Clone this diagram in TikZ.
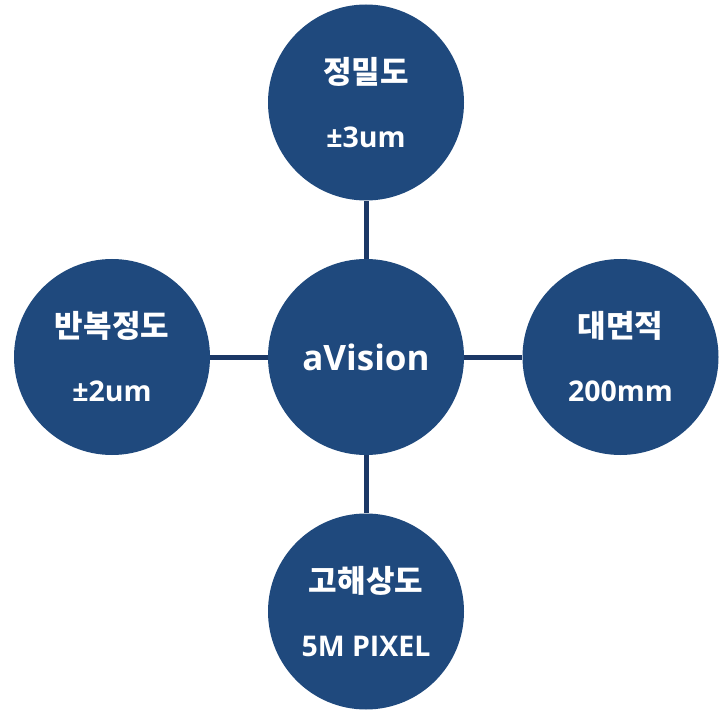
\documentclass[tikz,border=0pt]{standalone}
\usepackage{fontspec}
\setmainfont{Noto Sans CJK KR}
\newfontfamily\lat{Open Sans}
\definecolor{circfill}{HTML}{1F497D}
\definecolor{linkcol}{HTML}{1B3866}
\newcommand{\kline}[1]{{\bfseries\fontsize{31}{31}\selectfont #1}}
\newcommand{\lline}[1]{{\lat\bfseries\fontsize{28.5}{28.5}\selectfont #1}}
\begin{document}
\begin{tikzpicture}[x=1pt,y=-1pt,
  bubble/.style={circle, fill=circfill, draw=none, minimum size=196pt, inner sep=0pt,
    text=white, align=center, font=\fontsize{25}{64}\selectfont},
  hub/.style={bubble, font=\lat\bfseries\fontsize{35}{40}\selectfont},
  link/.style={draw=linkcol, line width=5pt}]
\useasboundingbox (0,0) rectangle (728,711);
\node[hub] (c) at (366,357) {aVision};
\node[bubble] (t) at (366,102.5) {\kline{정밀도}\\\lline{±3um}};
\node[bubble] (l) at (112,357) {\kline{반복정도}\\\lline{±2um}};
\node[bubble] (r) at (620.5,357) {\kline{대면적}\\\lline{200mm}};
\node[bubble] (b) at (366,611.5) {\kline{고해상도}\\\lline{5M PIXEL}};
\draw[link] (c.north) -- (t.south);
\draw[link] (c.west) -- (l.east);
\draw[link] (c.east) -- (r.west);
\draw[link] (c.south) -- (b.north);
\end{tikzpicture}
\end{document}
